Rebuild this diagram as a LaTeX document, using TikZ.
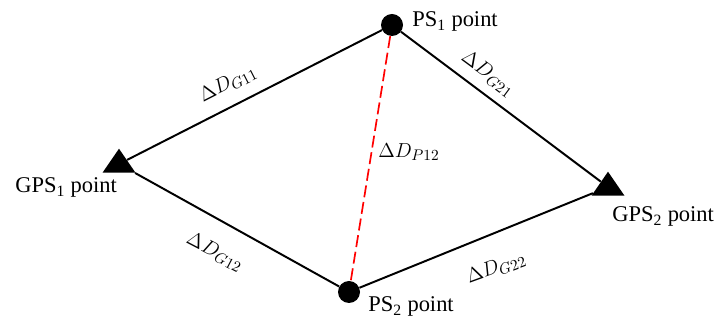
\documentclass[tikz,border=0pt]{standalone}
\usepackage{fontspec}
\setmainfont{Liberation Serif}
\usetikzlibrary{shapes.geometric}
\begin{document}
\begin{tikzpicture}[
    x=1cm,y=1cm,
    every node/.style={font=\fontsize{16}{19}\selectfont},
    ps/.style={circle, fill=black, minimum size=0.55cm, inner sep=0pt},
    gps/.style={isosceles triangle, isosceles triangle stretches, rotate=90, anchor=west, fill=black, minimum width=0.825cm, minimum height=0.6cm, inner sep=0pt},
    tag/.style={anchor=base west, inner sep=0pt},
    dist/.style={font=\fontsize{15}{18}\selectfont, inner sep=1pt},
    side/.style={line width=1.4pt, draw=black},
    diag/.style={line width=1.2pt, draw=red, dash pattern=on 0.3cm off 0.12cm}
]
    \useasboundingbox (0,0) rectangle (17.95,8.0);

    % survey points
    \node[ps] (ps1) at (9.80,7.375) {};
    \node[ps] (ps2) at (8.725,0.70) {};
    \node[gps] (gps1) at (2.975,3.675) {};
    \node[gps] (gps2) at (15.20,3.10) {};

    \node[tag] (ps1-tag) at (10.30,7.325) {PS\textsubscript{1} point};
    \node[tag] (ps2-tag) at (9.20,0.20) {PS\textsubscript{2} point};
    \node[tag] (gps1-tag) at (0.375,3.175) {GPS\textsubscript{1} point};
    \node[tag] (gps2-tag) at (15.30,2.45) {GPS\textsubscript{2} point};

    % baselines
    \draw[side] (gps1) -- (ps1);
    \draw[side] (ps1) -- (gps2);
    \draw[side] (gps1) -- (ps2);
    \draw[side] (ps2) -- (gps2);
    \draw[diag] (ps1) -- (ps2);

    \node[dist, rotate=27] (dg11) at (5.70,5.90) {$\Delta D_{G11}$};
    \node[dist, rotate=-36.5] (dg21) at (12.20,6.15) {$\Delta D_{G21}$};
    \node[dist] (dp12) at (10.225,4.20) {$\Delta D_{P12}$};
    \node[dist, rotate=-27.5] (dg12) at (5.375,1.70) {$\Delta D_{G12}$};
    \node[dist, rotate=20] (dg22) at (12.40,1.30) {$\Delta D_{G22}$};
\end{tikzpicture}
\end{document}
